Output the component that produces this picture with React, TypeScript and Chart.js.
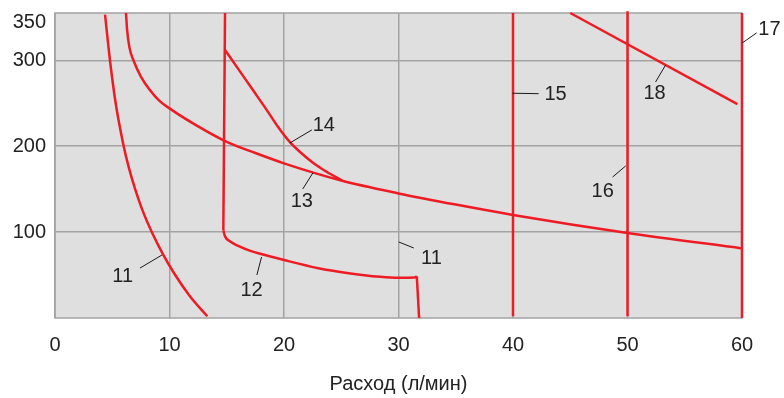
import React, { useEffect, useRef } from "react";
import Chart from "chart.js/auto";

// ---- data (x: расход л/мин, y: value) ----
const xTicks = [0, 10, 20, 30, 40, 50, 60];
const yTicks = [100, 200, 300, 350];
const yMax = 355;

const curve11X = [4.37, 4.8, 5.3, 6.0, 6.45, 7.0, 7.65, 8.45, 9.4, 10.5, 11.8, 13.3];
const curve11Y = [353, 300, 250, 200, 175, 150, 125, 100, 75, 50, 25, 2];

// curve 12: vertical part, curved part, drop
const curve12aX = [14.85, 14.7];
const curve12aY = [355, 102];
const curve12bX = [14.7, 14.85, 15.3, 16, 17, 18, 20, 23, 25.5, 28.4, 30, 31.4, 31.6];
const curve12bY = [102, 95, 89, 84, 78.5, 74.5, 67.5, 58, 52.5, 48, 46.8, 47, 48.5];
const curve12cX = [31.6, 31.8];
const curve12cY = [48.5, 0];

const curve13X = [6.2, 6.3, 6.5, 6.85, 7.5, 8.3, 9.1, 10, 12.5, 15, 17.5, 20, 25, 30, 35, 40, 50, 60];
const curve13Y = [355, 335, 315, 300, 281, 265, 253, 244, 223, 205, 192, 180, 160, 145, 132, 120, 99, 81];

const curve14X = [14.85, 16, 17.3, 18.5, 19.5, 20.5, 21.5, 22.5, 23.5, 25.07];
const curve14Y = [312, 290, 265, 242, 222, 205, 192, 181, 172, 160];

const line15X = [40, 40];
const line15Y = [355, 2];
const line16X = [50, 50];
const line16Y = [357, 2];
const line17X = [60, 60];
const line17Y = [355, 0];
const line18X = [45, 59.6];
const line18Y = [355, 249];

// callouts: label, text position, leader line start/end (data units)
const calloutText = ["11", "12", "13", "14", "11", "15", "16", "17", "18"];
const calloutTX = [5.91, 17.17, 21.56, 23.48, 32.88, 43.72, 47.83, 62.4, 52.36];
const calloutTY = [50, 33.7, 137.3, 225.8, 71, 260.8, 149, 336.4, 262];
const leadX1 = [7.42, 17.63, 21.64, 22.43, 30.02, 39.95, 48.7, 60.02, 52.45];
const leadY1 = [58.1, 50, 150.2, 218.9, 88.5, 261.6, 164.1, 320.1, 274.7];
const leadX2 = [9.34, 18.04, 22.52, 20.51, 31.33, 42.24, 49.84, 61.27, 53.33];
const leadY2 = [73.3, 71, 168.8, 203.7, 81.5, 261.1, 177, 331.8, 294.5];

const RED = "#ed1c24";
const GRID = "#a3a3a3";
const BG = "#dfdfdf";
const TEXT = "#222222";
const FONT = "'Liberation Sans', Arial, sans-serif";
const FSIZE = 20;

const pts = (xs: number[], ys: number[]) => xs.map((x, i) => ({ x, y: ys[i] }));

const plotPlugin = {
  id: "plotDecor",
  beforeDraw(chart: any) {
    const { ctx, chartArea: a } = chart;
    ctx.save();
    ctx.fillStyle = BG;
    ctx.fillRect(a.left, a.top, a.right - a.left, a.bottom - a.top);
    ctx.restore();
  },
  beforeDatasetsDraw(chart: any) {
    const { ctx, chartArea: a } = chart;
    ctx.save();
    ctx.strokeStyle = GRID;
    ctx.lineWidth = 1.5;
    ctx.strokeRect(a.left, a.top, a.right - a.left, a.bottom - a.top);
    ctx.restore();
  },
  afterDatasetsDraw(chart: any) {
    const { ctx } = chart;
    const xs = chart.scales.x;
    const ys = chart.scales.y;
    ctx.save();
    ctx.strokeStyle = "#1a1a1a";
    ctx.lineWidth = 1;
    for (let i = 0; i < calloutText.length; i++) {
      ctx.beginPath();
      ctx.moveTo(xs.getPixelForValue(leadX1[i]), ys.getPixelForValue(leadY1[i]));
      ctx.lineTo(xs.getPixelForValue(leadX2[i]), ys.getPixelForValue(leadY2[i]));
      ctx.stroke();
    }
    ctx.fillStyle = TEXT;
    ctx.font = `${FSIZE}px ${FONT}`;
    ctx.textAlign = "center";
    ctx.textBaseline = "middle";
    for (let i = 0; i < calloutText.length; i++) {
      ctx.fillText(calloutText[i], xs.getPixelForValue(calloutTX[i]), ys.getPixelForValue(calloutTY[i]) + 1);
    }
    ctx.restore();
  },
};

export default function App() {
  const ref = useRef<HTMLCanvasElement | null>(null);
  useEffect(() => {
    if (!ref.current) return;
    const mk = (xs: number[], ys: number[], smooth: boolean) => ({
      data: pts(xs, ys),
      borderColor: RED,
      borderWidth: 2.5,
      pointRadius: 0,
      fill: false,
      cubicInterpolationMode: smooth ? "monotone" : "default",
      tension: 0,
      clip: false as any,
    });
    const chart = new Chart(ref.current, {
      type: "line",
      data: {
        datasets: [
          mk(curve11X, curve11Y, true),
          mk(curve12aX, curve12aY, false),
          mk(curve12bX, curve12bY, true),
          mk(curve12cX, curve12cY, false),
          mk(curve13X, curve13Y, true),
          mk(curve14X, curve14Y, true),
          mk(line15X, line15Y, false),
          mk(line16X, line16Y, false),
          mk(line17X, line17Y, false),
          mk(line18X, line18Y, false),
        ] as any,
      },
      options: {
        animation: false,
        responsive: false,
        parsing: false as any,
        layout: { padding: { left: 0, top: 13, right: 42, bottom: 0 } },
        plugins: { legend: { display: false }, tooltip: { enabled: false }, title: { display: false } },
        scales: {
          x: {
            type: "linear",
            min: 0,
            max: 60,
            afterBuildTicks: (s: any) => {
              s.ticks = xTicks.map((v) => ({ value: v }));
            },
            afterFit: (s: any) => {
              s.height = 80;
              s.paddingLeft = 0;
              s.paddingRight = 0;
            },
            grid: { color: GRID, lineWidth: 1.5, drawTicks: false },
            border: { display: false },
            ticks: { color: TEXT, font: { family: FONT, size: FSIZE }, padding: 15, maxRotation: 0 },
            title: {
              display: true,
              text: "Расход (л/мин)",
              color: TEXT,
              font: { family: FONT, size: FSIZE },
              padding: { top: 0, bottom: 2 },
            },
          },
          y: {
            type: "linear",
            min: 0,
            max: yMax,
            afterBuildTicks: (s: any) => {
              s.ticks = yTicks.map((v) => ({ value: v }));
            },
            afterFit: (s: any) => {
              s.width = 55;
              s.paddingTop = 0;
              s.paddingBottom = 0;
            },
            grid: {
              color: (c: any) => (c.tick && c.tick.value === 350 ? "rgba(0,0,0,0)" : GRID),
              lineWidth: 1.5,
              drawTicks: false,
            },
            border: { display: false },
            ticks: {
              color: TEXT,
              padding: 9,
              callback: (v: any) => (v === 350 ? ["", "350"] : String(v)),
              font: (c: any) =>
                c.tick && c.tick.value === 350
                  ? { family: FONT, size: FSIZE, lineHeight: 0.5 }
                  : { family: FONT, size: FSIZE },
            },
          },
        },
      },
      plugins: [plotPlugin],
    });
    return () => chart.destroy();
  }, []);
  return (
    <div style={{ position: "fixed", left: 0, top: 0, width: 784, height: 398, background: "#fff" }}>
      <canvas ref={ref} width={784} height={398} style={{ display: "block" }} />
    </div>
  );
}
